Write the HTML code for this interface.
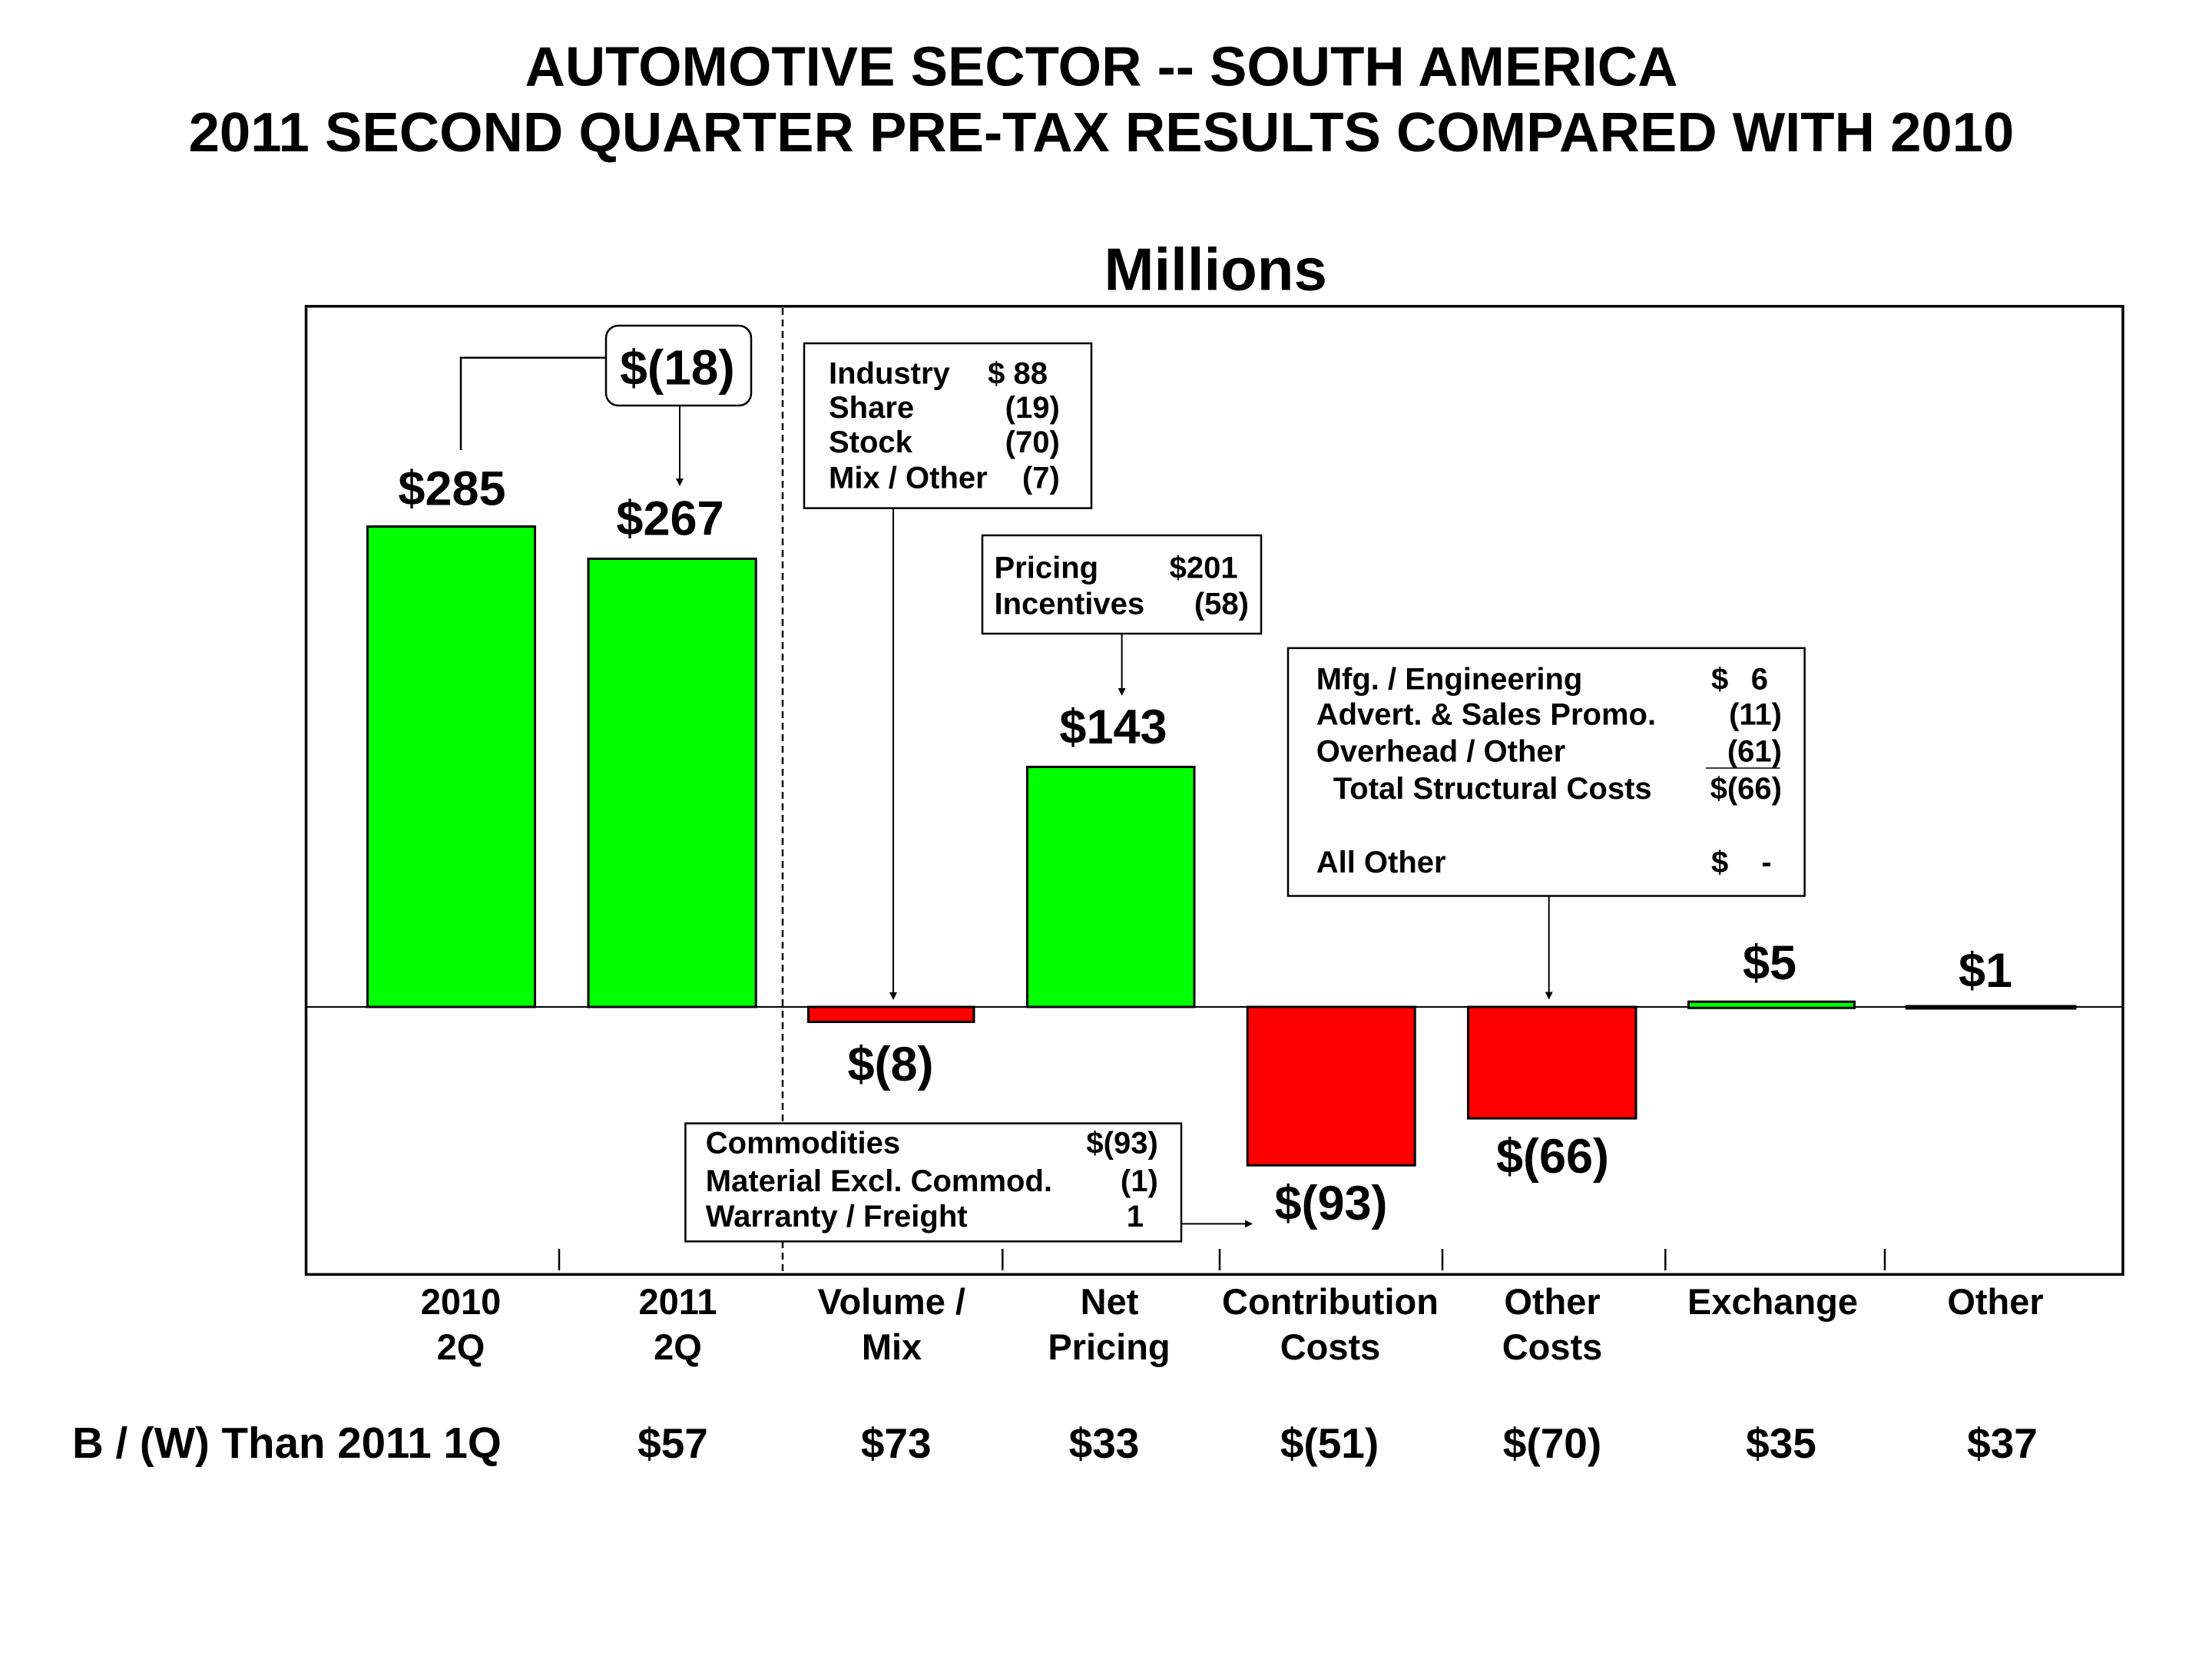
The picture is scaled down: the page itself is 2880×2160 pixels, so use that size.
<!DOCTYPE html>
<html>
<head>
<meta charset="utf-8">
<style>
  html, body { margin: 0; padding: 0; background: #ffffff; }
  svg { display: block; }
  text { font-family: "Liberation Sans", Arial, sans-serif; font-weight: bold; fill: #000; }
</style>
</head>
<body>
<svg xmlns="http://www.w3.org/2000/svg" width="2880" height="2160" viewBox="0 0 2880 2160">
  <rect x="0" y="0" width="2880" height="2160" fill="#ffffff"/>

  <!-- Titles -->
  <text x="1434" y="111.4" font-size="72.5" text-anchor="middle">AUTOMOTIVE SECTOR -- SOUTH AMERICA</text>
  <text x="1434" y="197" font-size="72.5" text-anchor="middle">2011 SECOND QUARTER PRE-TAX RESULTS COMPARED WITH 2010</text>
  <text x="1437.5" y="377.5" font-size="78">Millions</text>

  <!-- Plot frame -->
  <rect x="398.5" y="398.8" width="2365.5" height="1260.5" fill="none" stroke="#000" stroke-width="3.5"/>

  <!-- Dashed separator -->
  <line x1="1019" y1="401" x2="1019" y2="1657" stroke="#000" stroke-width="2.5" stroke-dasharray="9 6"/>

  <!-- Zero baseline -->
  <line x1="400" y1="1311" x2="2763" y2="1311" stroke="#000" stroke-width="2"/>

  <!-- Ticks -->
  <g stroke="#000" stroke-width="2.5">
    <line x1="728" y1="1626" x2="728" y2="1654"/>
    <line x1="1305.3" y1="1626" x2="1305.3" y2="1654"/>
    <line x1="1588" y1="1626" x2="1588" y2="1654"/>
    <line x1="1878" y1="1626" x2="1878" y2="1654"/>
    <line x1="2168.3" y1="1626" x2="2168.3" y2="1654"/>
    <line x1="2454" y1="1626" x2="2454" y2="1654"/>
  </g>

  <!-- Bars -->
  <g stroke="#000" stroke-width="3">
    <rect x="478.5" y="685.5" width="218" height="625.5" fill="#00ff00"/>
    <rect x="766" y="727.5" width="218.2" height="583.5" fill="#00ff00"/>
    <rect x="1052.5" y="1311" width="215.5" height="19.5" fill="#ff0000"/>
    <rect x="1337.5" y="998.5" width="217.5" height="312.5" fill="#00ff00"/>
    <rect x="1624.2" y="1311" width="218" height="206.2" fill="#ff0000"/>
    <rect x="1911.5" y="1311" width="218.5" height="145.1" fill="#ff0000"/>
    <rect x="2198.5" y="1304.2" width="216" height="8.1" fill="#00ff00"/>
    <rect x="2482.5" y="1310" width="219.5" height="3" fill="#000"/>
  </g>

  <!-- Bar value labels -->
  <g font-size="63" text-anchor="middle">
    <text x="588.5" y="657.6">$285</text>
    <text x="872.5" y="696.3">$267</text>
    <text x="1159.5" y="1406.8">$(8)</text>
    <text x="1449.5" y="967.8">$143</text>
    <text x="1733" y="1588">$(93)</text>
    <text x="2021.5" y="1527">$(66)</text>
    <text x="2304" y="1275">$5</text>
    <text x="2585" y="1284.8">$1</text>
  </g>

  <!-- $(18) callout -->
  <rect x="789" y="424" width="189" height="104" rx="16" ry="16" fill="#fff" stroke="#000" stroke-width="2.5"/>
  <text x="882" y="500.4" font-size="64" text-anchor="middle">$(18)</text>
  <polyline points="600,586 600,465.7 789,465.7" fill="none" stroke="#000" stroke-width="2.5"/>
  <line x1="885" y1="528" x2="885" y2="624" stroke="#000" stroke-width="2"/>
  <polygon points="880,623 890,623 885,633" fill="#000"/>

  <!-- Industry box -->
  <rect x="1047" y="447" width="374" height="214.6" fill="#fff" stroke="#000" stroke-width="2.5"/>
  <g font-size="40">
    <text x="1079" y="499.6">Industry</text>
    <text x="1079" y="544">Share</text>
    <text x="1079" y="589">Stock</text>
    <text x="1079" y="635.5">Mix / Other</text>
  </g>
  <g font-size="40" text-anchor="end">
    <text x="1364" y="499.6">$ 88</text>
    <text x="1379.8" y="544">(19)</text>
    <text x="1379.8" y="589">(70)</text>
    <text x="1379.8" y="635.5">(7)</text>
  </g>
  <line x1="1163" y1="661.6" x2="1163" y2="1293" stroke="#000" stroke-width="2"/>
  <polygon points="1158,1292 1168,1292 1163,1302" fill="#000"/>

  <!-- Pricing box -->
  <rect x="1279" y="697" width="363" height="128" fill="#fff" stroke="#000" stroke-width="2.5"/>
  <g font-size="40">
    <text x="1294.5" y="752.6">Pricing</text>
    <text x="1294.5" y="799.6">Incentives</text>
  </g>
  <g font-size="40" text-anchor="end">
    <text x="1611.6" y="752.6">$201</text>
    <text x="1626" y="799.6">(58)</text>
  </g>
  <line x1="1460.6" y1="825" x2="1460.6" y2="897" stroke="#000" stroke-width="2"/>
  <polygon points="1455.6,896 1465.6,896 1460.6,905.7" fill="#000"/>

  <!-- Structural costs box -->
  <rect x="1677" y="843.8" width="672.6" height="322.7" fill="#fff" stroke="#000" stroke-width="2.5"/>
  <g font-size="40">
    <text x="1713.7" y="897.5">Mfg. / Engineering</text>
    <text x="1713.7" y="943.4">Advert. &amp; Sales Promo.</text>
    <text x="1713.7" y="991.6">Overhead / Other</text>
    <text x="1735.8" y="1039.8">Total Structural Costs</text>
    <text x="1713.7" y="1136">All Other</text>
    <text x="2228" y="897.5">$</text>
    <text x="2228" y="1136">$</text>
    <text x="2300" y="1136" text-anchor="middle">-</text>
  </g>
  <g font-size="40" text-anchor="end">
    <text x="2302" y="897.5">6</text>
    <text x="2320" y="943.4">(11)</text>
    <text x="2320" y="991.6">(61)</text>
    <text x="2320" y="1039.8">$(66)</text>
  </g>
  <line x1="2221" y1="1000" x2="2317.5" y2="1000" stroke="#000" stroke-width="1.5"/>
  <line x1="2016.7" y1="1166.5" x2="2016.7" y2="1292" stroke="#000" stroke-width="2"/>
  <polygon points="2011.7,1291.5 2021.7,1291.5 2016.7,1301.5" fill="#000"/>

  <!-- Commodities box -->
  <rect x="892.4" y="1462.6" width="645.6" height="153.7" fill="#fff" stroke="#000" stroke-width="2.5"/>
  <g font-size="40">
    <text x="918.8" y="1501.4">Commodities</text>
    <text x="918.8" y="1551">Material Excl. Commod.</text>
    <text x="918.8" y="1596.9">Warranty / Freight</text>
  </g>
  <g font-size="40" text-anchor="end">
    <text x="1507.8" y="1501.4">$(93)</text>
    <text x="1507.8" y="1551">(1)</text>
    <text x="1489" y="1596.9">1</text>
  </g>
  <line x1="1538" y1="1593.4" x2="1622" y2="1593.4" stroke="#000" stroke-width="2"/>
  <polygon points="1621,1588.4 1621,1598.4 1631,1593.4" fill="#000"/>

  <!-- Category labels -->
  <g font-size="47" text-anchor="middle">
    <text x="600" y="1711">2010</text>
    <text x="600" y="1770">2Q</text>
    <text x="882.5" y="1711">2011</text>
    <text x="882.5" y="1770">2Q</text>
    <text x="1160.8" y="1711">Volume /</text>
    <text x="1161" y="1770">Mix</text>
    <text x="1444.5" y="1711">Net</text>
    <text x="1444" y="1770">Pricing</text>
    <text x="1732" y="1711">Contribution</text>
    <text x="1732" y="1770">Costs</text>
    <text x="2021" y="1711">Other</text>
    <text x="2021" y="1770">Costs</text>
    <text x="2308" y="1711">Exchange</text>
    <text x="2598" y="1711">Other</text>
  </g>

  <!-- B/(W) row -->
  <text x="94" y="1898" font-size="56.5">B / (W) Than 2011 1Q</text>
  <g font-size="55" text-anchor="middle">
    <text x="876" y="1898">$57</text>
    <text x="1166.7" y="1898">$73</text>
    <text x="1437.5" y="1898">$33</text>
    <text x="1731" y="1898">$(51)</text>
    <text x="2021" y="1898">$(70)</text>
    <text x="2319" y="1898">$35</text>
    <text x="2607" y="1898">$37</text>
  </g>
</svg>
</body>
</html>
